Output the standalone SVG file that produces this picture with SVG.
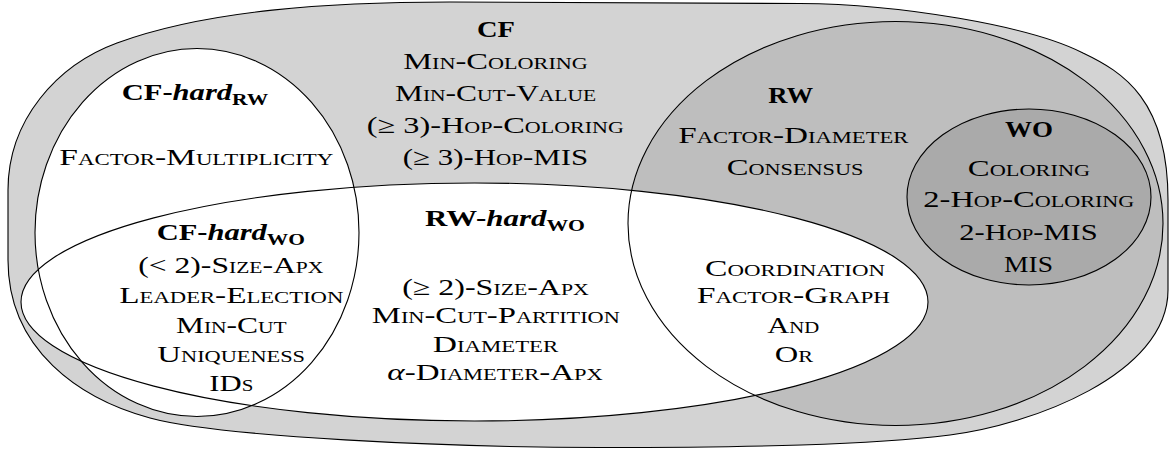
<svg xmlns="http://www.w3.org/2000/svg" xmlns:xlink="http://www.w3.org/1999/xlink" width="1175" height="451" viewBox="0 0 1175 451">
<style>
.outline{fill:none;stroke:#000;stroke-width:1.1}
.f-cf{fill:#d3d3d3;stroke:none}
.f-rw{fill:#bebebe;stroke:none}
.f-wo{fill:#aaaaaa;stroke:none}
.f-white{fill:#ffffff;stroke:none}
text{font-family:"Liberation Serif","DejaVu Serif",serif;font-size:23.5px;text-anchor:middle;fill:#000}
.t{font-variant:small-caps}
.b{font-weight:bold}
.sub{font-size:16.5px;font-weight:bold;font-style:normal}
.it{font-style:italic;font-variant:normal}
</style>
<defs>
<path id="shape-cf" d="M 8,190 C 8,120 57,65 117,43 C 207,10 330,2 450,2 L 800,3.5 C 900,4 1030,26 1083,53 C 1123,72 1168,100 1168,200 L 1168,290 C 1168,375 1030,425 950,435 C 870,445 750,447.5 600,447.5 C 450,447.5 220,437 150,418 C 80,399 8,350 8,260 Z"/>
<ellipse id="shape-rw" cx="895.5" cy="223.5" rx="267.5" ry="202"/>
<ellipse id="shape-wo" cx="1029" cy="197" rx="122" ry="88"/>
<ellipse id="shape-rwhard" cx="474.5" cy="302" rx="453.5" ry="119"/>
<ellipse id="shape-cfhard" cx="197" cy="232.5" rx="162" ry="184"/>
</defs>
<g id="fills">
<use xlink:href="#shape-cf" class="f-cf"/>
<use xlink:href="#shape-rw" class="f-rw"/>
<use xlink:href="#shape-wo" class="f-wo"/>
<use xlink:href="#shape-rwhard" class="f-white"/>
<use xlink:href="#shape-cfhard" class="f-white"/>
</g>
<g id="connectors"></g>
<g id="node-cf">
<use xlink:href="#shape-cf" class="outline"/>
<text x="496" y="36.7" class="b" textLength="38" lengthAdjust="spacingAndGlyphs">CF</text>
<text x="495.5" y="69" class="t" textLength="184.6" lengthAdjust="spacingAndGlyphs">Min-Coloring</text>
<text x="495.5" y="100.7" class="t" textLength="201" lengthAdjust="spacingAndGlyphs">Min-Cut-Value</text>
<text x="495.3" y="132.7" class="t" textLength="257" lengthAdjust="spacingAndGlyphs">(≥ 3)-Hop-Coloring</text>
<text x="495.5" y="165" class="t" textLength="185.6" lengthAdjust="spacingAndGlyphs">(≥ 3)-Hop-MIS</text>
</g>
<g id="node-rw">
<use xlink:href="#shape-rw" class="outline"/>
<text x="790.8" y="103.3" class="b" textLength="45" lengthAdjust="spacingAndGlyphs">RW</text>
<text x="793.3" y="143.3" class="t" textLength="230" lengthAdjust="spacingAndGlyphs">Factor-Diameter</text>
<text x="795" y="175" class="t" textLength="136.7" lengthAdjust="spacingAndGlyphs">Consensus</text>
</g>
<g id="node-wo">
<use xlink:href="#shape-wo" class="outline"/>
<text x="1029" y="136.7" class="b" textLength="48" lengthAdjust="spacingAndGlyphs">WO</text>
<text x="1029" y="176" class="t" textLength="122.3" lengthAdjust="spacingAndGlyphs">Coloring</text>
<text x="1028.8" y="207.3" class="t" textLength="211" lengthAdjust="spacingAndGlyphs">2-Hop-Coloring</text>
<text x="1028.5" y="240" class="t" textLength="138.4" lengthAdjust="spacingAndGlyphs">2-Hop-MIS</text>
<text x="1028.5" y="271.7" class="t" textLength="49" lengthAdjust="spacingAndGlyphs">MIS</text>
</g>
<g id="node-rw-hard-wo">
<use xlink:href="#shape-rwhard" class="outline"/>
<text x="505" y="226" class="b" textLength="160" lengthAdjust="spacingAndGlyphs">RW-<tspan class="it">hard</tspan><tspan class="sub" dy="4.5">WO</tspan></text>
<text x="495.5" y="295" class="t" textLength="186.6" lengthAdjust="spacingAndGlyphs">(≥ 2)-Size-Apx</text>
<text x="495.8" y="323.3" class="t" textLength="248" lengthAdjust="spacingAndGlyphs">Min-Cut-Partition</text>
<text x="495.5" y="351.7" class="t" textLength="125.6" lengthAdjust="spacingAndGlyphs">Diameter</text>
<text x="495" y="380" class="t" textLength="215.3" lengthAdjust="spacingAndGlyphs"><tspan class="it">α</tspan>-Diameter-Apx</text>
<text x="795" y="276" class="t" textLength="180" lengthAdjust="spacingAndGlyphs">Coordination</text>
<text x="793.3" y="303.3" class="t" textLength="193.3" lengthAdjust="spacingAndGlyphs">Factor-Graph</text>
<text x="793.3" y="333.3" class="t" textLength="52" lengthAdjust="spacingAndGlyphs">And</text>
<text x="794" y="361.7" class="t" textLength="38.3" lengthAdjust="spacingAndGlyphs">Or</text>
</g>
<g id="node-cf-hard-rw">
<use xlink:href="#shape-cfhard" class="outline"/>
<text x="195" y="100" class="b" textLength="146.6" lengthAdjust="spacingAndGlyphs">CF-<tspan class="it">hard</tspan><tspan class="sub" dy="4.5">RW</tspan></text>
<text x="196.3" y="165" class="t" textLength="274" lengthAdjust="spacingAndGlyphs">Factor-Multiplicity</text>
</g>
<g id="node-cf-hard-wo">
<text x="230.8" y="240" class="b" textLength="148.3" lengthAdjust="spacingAndGlyphs">CF-<tspan class="it">hard</tspan><tspan class="sub" dy="4.5">WO</tspan></text>
<text x="230.8" y="273" class="t" textLength="185" lengthAdjust="spacingAndGlyphs">(&lt; 2)-Size-Apx</text>
<text x="231.3" y="303" class="t" textLength="224" lengthAdjust="spacingAndGlyphs">Leader-Election</text>
<text x="231.3" y="333" class="t" textLength="110.7" lengthAdjust="spacingAndGlyphs">Min-Cut</text>
<text x="231.2" y="361.7" class="t" textLength="147.7" lengthAdjust="spacingAndGlyphs">Uniqueness</text>
<text x="231.3" y="390.7" class="t" textLength="44" lengthAdjust="spacingAndGlyphs">IDs</text>
</g>
</svg>
